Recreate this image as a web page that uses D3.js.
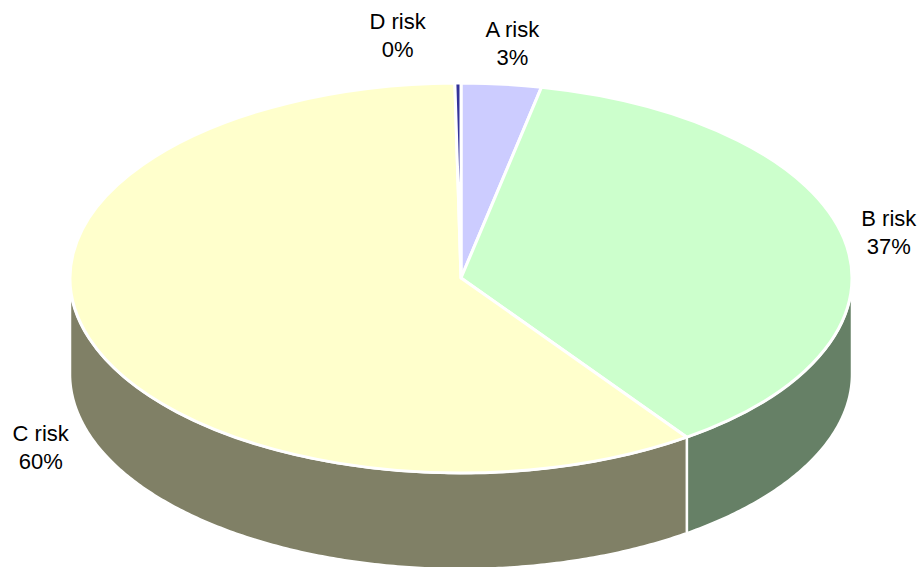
<!DOCTYPE html>
<html>
<head>
<meta charset="utf-8">
<script src="https://cdn.jsdelivr.net/npm/d3@7"></script>
<style>
  html, body { margin: 0; padding: 0; background: #ffffff; }
  svg { display: block; }
  text { font-family: "Liberation Sans", Arial, sans-serif; }
</style>
</head>
<body>
<svg id="chart" width="922" height="567"></svg>
<script>
// Risk categories and their shares (percent of total)
const categories = ["A risk", "B risk", "C risk", "D risk"];
const values = [3.3, 36.9, 59.55, 0.25];
const topColors = ["#ccccff", "#ccffcc", "#ffffcc", "#333399"];
const sideColors = ["#666680", "#668066", "#808066", "#1a1a4d"];

// Small label nudges relative to each slice's outer anchor
const labelNudge = { "A risk": [6, -18], "B risk": [-1, -2], "C risk": [-4, 5.5], "D risk": [-60, -25] };

const W = 922, H = 567;
const cx = 461, cy = 278;     // centre of the top face
const rx = 391, ry = 195;     // ellipse radii of the tilted disc
const depth = 96;             // thickness of the disc

const svg = d3.select("#chart");

const data = categories.map((c, i) => ({ name: c, value: values[i], top: topColors[i], side: sideColors[i] }));
const total = d3.sum(values);
const pct = d3.format(".0%");

const pie = d3.pie().sort(null).value(d => d.value).startAngle(0).endAngle(2 * Math.PI);
const slices = pie(data);

const px = a => cx + rx * Math.sin(a);
const py = a => cy - ry * Math.cos(a);

// Side walls: only the front half (angles between pi/2 and 3pi/2) is visible
const sideLine = d3.line();
const sides = svg.append("g").attr("class", "sides");
slices.forEach(s => {
  const a0 = Math.max(s.startAngle, Math.PI / 2);
  const a1 = Math.min(s.endAngle, 3 * Math.PI / 2);
  if (a1 <= a0) return;
  const n = Math.max(2, Math.ceil((a1 - a0) / 0.01));
  const angles = d3.range(n + 1).map(i => a0 + (a1 - a0) * i / n);
  const pts = angles.map(a => [px(a), py(a)])
    .concat(angles.slice().reverse().map(a => [px(a), py(a) + depth]));
  sides.append("path")
    .attr("d", sideLine(pts) + "Z")
    .attr("fill", s.data.side)
    .attr("stroke", "#ffffff")
    .attr("stroke-width", 2.5)
    .attr("stroke-linejoin", "round");
});

// Top face: circular arcs squashed vertically into an ellipse
const arc = d3.arc().innerRadius(0).outerRadius(rx);
const topFace = svg.append("g")
  .attr("transform", `translate(${cx},${cy}) scale(1,${ry / rx})`);
topFace.selectAll("path")
  .data(slices)
  .join("path")
  .attr("d", arc)
  .attr("fill", d => d.data.top)
  .attr("stroke", "#ffffff")
  .attr("stroke-width", 3)
  .attr("stroke-linejoin", "round")
  .attr("vector-effect", "non-scaling-stroke");

// Data labels: category name and share, placed outside each slice
const labels = svg.append("g").attr("class", "labels");
slices.forEach(s => {
  const mid = (s.startAngle + s.endAngle) / 2;
  const k = 1.12;
  let ax = cx + rx * k * Math.sin(mid);
  let ay = cy - ry * k * Math.cos(mid) + (Math.cos(mid) < 0 ? depth : 0);
  const nudge = labelNudge[s.data.name] || [0, 0];
  ax += nudge[0];
  ay += nudge[1];
  const t = labels.append("text")
    .attr("text-anchor", "middle")
    .attr("font-size", 22)
    .attr("fill", "#000000");
  t.append("tspan").attr("x", ax).attr("y", ay - 6).text(s.data.name);
  t.append("tspan").attr("x", ax).attr("y", ay + 22).text(pct(s.data.value / total));
});
</script>
</body>
</html>
